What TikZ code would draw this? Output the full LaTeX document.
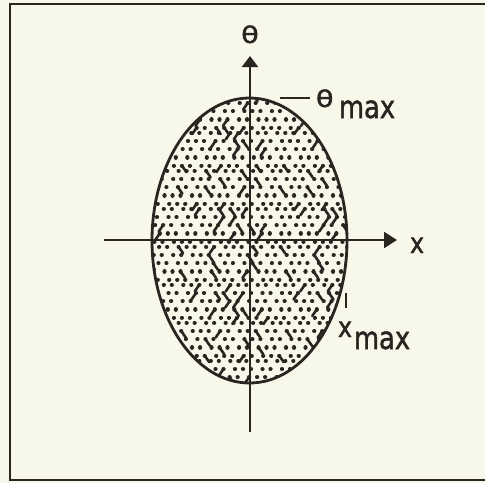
\documentclass[tikz,border=0pt]{standalone}
\usepackage{fontspec}
\setmainfont{DejaVu Sans}
\newfontfamily\plotfont{DejaVu Sans}[FakeBold=1.6]
\usetikzlibrary{arrows.meta}
\definecolor{ink}{HTML}{2B2522}
\definecolor{paper}{HTML}{F7F7EA}
\tikzset{
  axisline/.style={draw=ink, line width=2.2pt},
  lbl/.style={text=ink, inner sep=0pt, outer sep=0pt},
  bigfont/.style={font=\plotfont\fontsize{28}{28}\selectfont},
  thfont/.style={font=\plotfont\fontsize{23}{23}\selectfont},
  dotmark/.style={draw=ink, line width=4.2pt, line cap=round},
  dumbbell/.style={draw=ink, line width=2.6pt, line cap=round},
}
\begin{document}
\begin{tikzpicture}[x=1pt,y=-1pt]
\useasboundingbox (0,0) rectangle (485,483);
\fill[paper] (0,0) rectangle (485,483);
\begin{scope}
\clip (0,0) rectangle (485,483);
\draw[ink, line width=2.5pt] (10,4) rectangle (495,480);
\end{scope}
% ellipse
\coordinate (O) at (249.5,240.5);
\begin{scope}
\clip (O) ellipse [x radius=97.5, y radius=142.5];
\foreach \j in {0,...,37} {
  \foreach \i in {0,...,21} {
    \pgfmathsetmacro{\px}{149+\i*9.4+mod(\j,2)*4.7+(mod(\i*13+\j*7,5)-2)*0.7}
    \pgfmathsetmacro{\py}{96+\j*7.6+(mod(\i*5+\j*11,5)-2)*0.6}
    \draw[dotmark] (\px,\py) -- ++(0.05,0);
    \pgfmathtruncatemacro{\sel}{mod(\i*\i*3+\j*\j*7+\i*\j*5+\i+3*\j,11)}
    \ifnum\sel=0
      \draw[dumbbell] (\px,\py) -- ++(4.5,6.5);
    \fi
    \ifnum\sel=7
      \draw[dumbbell] (\px,\py) -- ++(-4.5,6.5);
    \fi
  }
}
\end{scope}
\draw[ink, line width=2.8pt] (O) ellipse [x radius=97.5, y radius=142.5];
% axes
\coordinate (xl) at (104,240);
\coordinate (xr) at (397,240);
\coordinate (yb) at (250,432);
\coordinate (yt) at (250,56);
\draw[axisline, -{Triangle[length=13pt,width=16pt]}] (xl) -- (xr);
\draw[axisline, -{Triangle[length=11pt,width=16pt]}] (yb) -- (yt);
% labels
\node[lbl, thfont, anchor=base] (theta) at (250,43) {\scalebox{1.25}[1]{θ}};
\node[lbl, bigfont, anchor=base west] (xlab) at (410,253) {\scalebox{0.85}[1]{x}};
% theta max
\node[lbl, thfont, anchor=base west] (thm) at (316,107) {\scalebox{1.25}[1]{θ}};
\node[lbl, bigfont, anchor=base west] (thmsub) at (339,118) {\scalebox{0.92}[1.12]{max}};
\coordinate (d1) at (280,98);
\coordinate (d2) at (310,98);
\draw[ink, line width=2pt] (d1) -- (d2);
% x max
\coordinate (t1) at (346,293);
\coordinate (t2) at (346,308);
\draw[ink, line width=2pt] (t1) -- (t2);
\node[lbl, bigfont, anchor=base west] (xm) at (338,337) {\scalebox{0.85}[1]{x}};
\node[lbl, bigfont, anchor=base west] (xmsub) at (354,349) {\scalebox{0.92}[1.12]{max}};
\end{tikzpicture}
\end{document}
